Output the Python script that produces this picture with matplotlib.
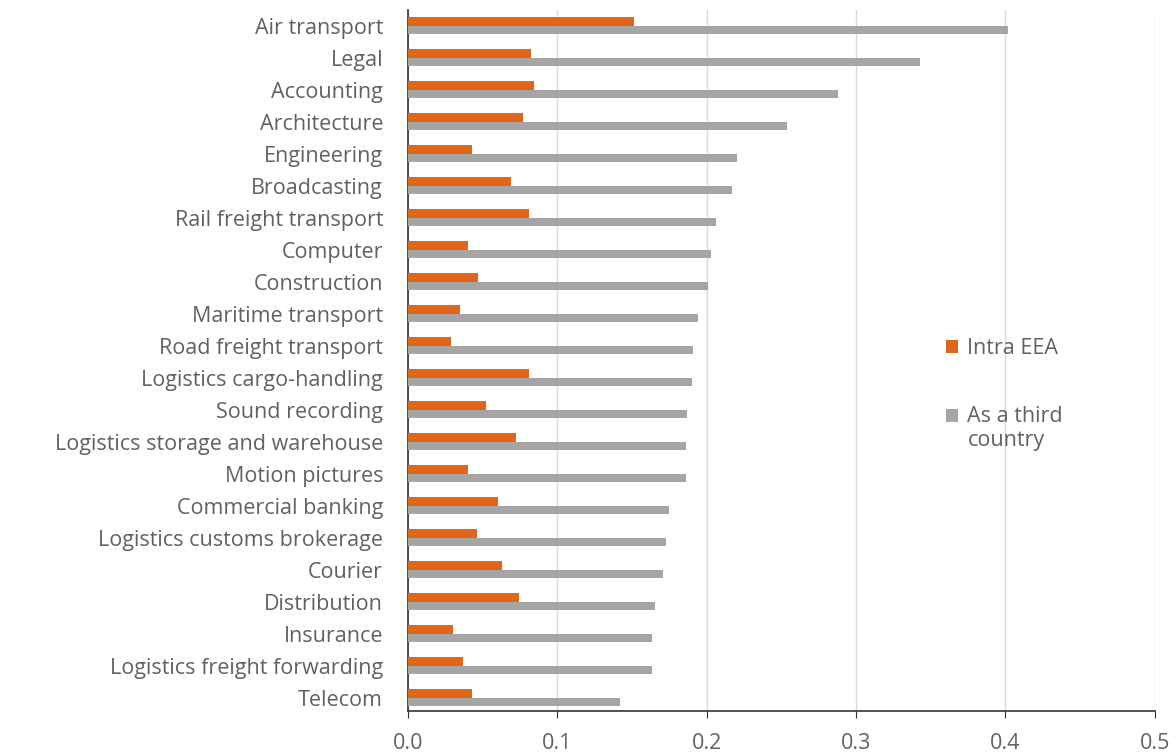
import matplotlib.pyplot as plt
import numpy as np

# sectors, top to bottom
sectors = ["Air transport", "Legal", "Accounting", "Architecture", "Engineering",
           "Broadcasting", "Rail freight transport", "Computer", "Construction",
           "Maritime transport", "Road freight transport", "Logistics cargo-handling",
           "Sound recording", "Logistics storage and warehouse", "Motion pictures",
           "Commercial banking", "Logistics customs brokerage", "Courier",
           "Distribution", "Insurance", "Logistics freight forwarding", "Telecom"]
intra_eea = [0.151, 0.082, 0.084, 0.077, 0.043, 0.069, 0.081, 0.040, 0.047,
             0.035, 0.029, 0.081, 0.052, 0.072, 0.040, 0.060, 0.046, 0.063,
             0.074, 0.030, 0.037, 0.043]
third_country = [0.402, 0.343, 0.288, 0.254, 0.220, 0.217, 0.206, 0.203, 0.201,
                 0.194, 0.191, 0.190, 0.187, 0.186, 0.186, 0.175, 0.173, 0.171,
                 0.165, 0.163, 0.163, 0.142]
xticks = [0.0, 0.1, 0.2, 0.3, 0.4, 0.5]

orange = "#E0661C"
grey = "#A5A5A5"
txt = "#616161"
fs = 15.5

plt.rcParams["font.family"] = ["Open Sans", "DejaVu Sans"]

fig = plt.figure(figsize=(11.76, 7.56), dpi=100)
ax = fig.add_axes([0.347, 0.06, 0.635, 0.927])

y = np.arange(len(sectors))
h = 0.27
ax.barh(y - h / 2, intra_eea, height=h, color=orange, label="Intra EEA", zorder=3)
ax.barh(y + h / 2, third_country, height=h, color=grey,
        label="As a third\ncountry", zorder=3)

ax.set_ylim(len(sectors) - 0.6, -0.5)
ax.set_xlim(0, 0.5)
ax.set_yticks(y)
ax.set_yticklabels(sectors, fontsize=fs, color=txt)
ax.set_xticks(xticks)
ax.set_xticklabels([f"{v:.1f}" for v in xticks], fontsize=fs, color=txt)
ax.tick_params(axis="y", length=0, pad=18)
ax.tick_params(axis="x", length=5, direction="out", color="#333333", pad=11)
ax.grid(axis="x", color="#D9D9D9", linewidth=1, zorder=0)

for s in ["top", "right"]:
    ax.spines[s].set_visible(False)
ax.spines["left"].set_color("#333333")
ax.spines["bottom"].set_color("#333333")
ax.spines["left"].set_linewidth(1.2)
ax.spines["bottom"].set_linewidth(1.2)

leg = ax.legend(loc="upper left", bbox_to_anchor=(0.72, 0.532), frameon=False,
                fontsize=fs, handlelength=0.55, handleheight=0.55,
                handletextpad=0.45, labelspacing=2.2, labelcolor=txt,
                borderpad=0, borderaxespad=0)
# put the grey square next to the first line of its two-line label
hnd = leg.legend_handles[1]
hnd.set_y(hnd.get_y() + 0.62 * fs)

fig.savefig("out.png", dpi=100)
